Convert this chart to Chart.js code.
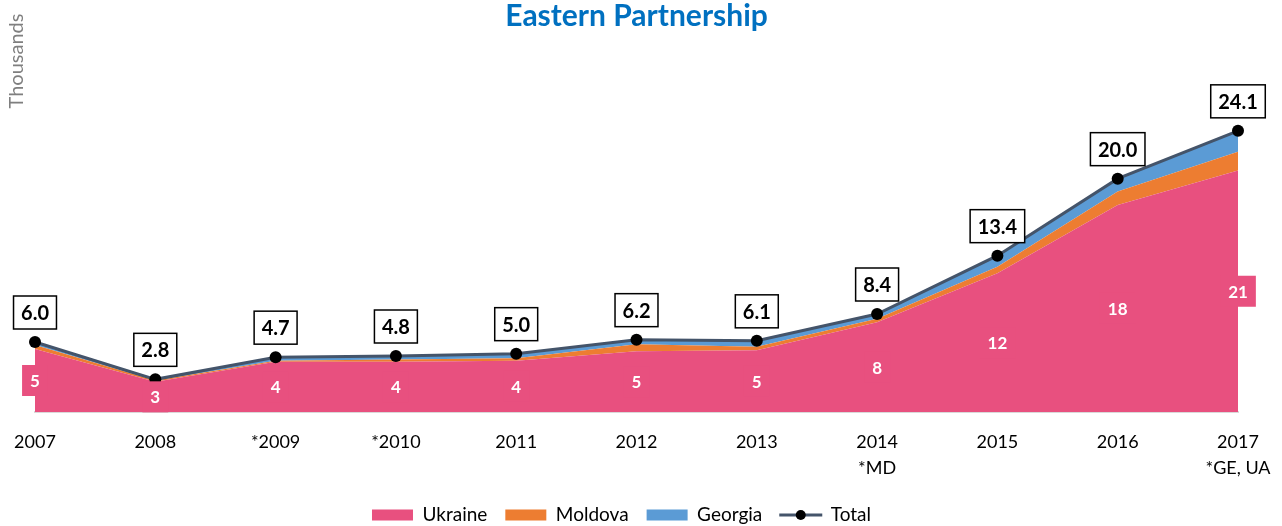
<!DOCTYPE html>
<html>
<head>
<meta charset="utf-8">
<script src="https://cdn.jsdelivr.net/npm/chart.js@4.4.1/dist/chart.umd.min.js"></script>
<style>
  html, body { margin: 0; padding: 0; background: #fff; }
  #wrap { width: 1282px; height: 526px; position: relative; }
</style>
</head>
<body>
<div id="wrap"><canvas id="chart"></canvas></div>
<script>
/* ================= DATA ================= */
const years = ["2007", "2008", "*2009", "*2010", "2011", "2012", "2013",
  ["2014", "*MD"], "2015", "2016", ["2017", "*GE, UA"]];
const ukraine = [5.4, 2.6, 4.3, 4.3, 4.4, 5.2, 5.3, 7.7, 11.9, 17.75, 20.7];
const moldova = [0.35, 0.1, 0.1, 0.2, 0.2, 0.6, 0.3, 0.3, 0.55, 1.15, 1.6];
const georgia = [0.25, 0.1, 0.3, 0.3, 0.4, 0.4, 0.5, 0.4, 0.95, 1.1, 1.8];
const total = [6.0, 2.8, 4.7, 4.8, 5.0, 6.2, 6.1, 8.4, 13.4, 20.0, 24.1];

/* ================= STYLE ================= */
const PINK = "#e8507f";
const ORANGE = "#ed7d31";
const BLUE = "#5b9bd5";
const SLATE = "#44546a";
const FONT = "Lato, 'Open Sans', sans-serif";
const LEGEND_SIZE = 19;

/* ================= PLUGINS ================= */
// fixed legend height + small left shift of the legend row
const legendPlace = {
  id: "legendPlace",
  beforeLayout(chart) {
    const lg = chart.legend;
    if (lg && !lg._patched) {
      const fit = lg.fit;
      lg.fit = function () {
        fit.call(this);
        this.height = 38.5;
      };
      lg._patched = true;
    }
  },
  afterLayout(chart) {
    chart.legend.left -= 15;
    chart.legend.right -= 15;
  },
};

// white Ukraine values + boxed totals
const valueLabels = {
  id: "valueLabels",
  afterDatasetsDraw(chart) {
    const ctx = chart.ctx;
    const base = chart.scales.y.getPixelForValue(0);
    const ukrMeta = chart.getDatasetMeta(0);
    const totMeta = chart.getDatasetMeta(3);
    ctx.save();
    ctx.textAlign = "center";
    ctx.textBaseline = "middle";

    ctx.font = "bold 17px " + FONT;
    ukrMeta.data.forEach((pt, i) => {
      const txt = String(Math.round(ukraine[i]));
      const cy = (pt.y + base) / 2;
      const w = ctx.measureText(txt).width + 16;
      ctx.fillStyle = PINK;
      ctx.fillRect(pt.x - w / 2, cy - 15.5, w, 31);
      ctx.fillStyle = "#fff";
      ctx.fillText(txt, pt.x, cy + 1);
    });

    ctx.font = "bold 20px " + FONT;
    totMeta.data.forEach((pt, i) => {
      const txt = total[i].toFixed(1);
      const w = ctx.measureText(txt).width + 15;
      const cy = pt.y - 29.5;
      ctx.fillStyle = "#fff";
      ctx.fillRect(pt.x - w / 2, cy - 16.5, w, 33);
      ctx.lineWidth = 1.5;
      ctx.strokeStyle = "#000";
      ctx.strokeRect(pt.x - w / 2, cy - 16.5, w, 33);
      ctx.fillStyle = "#000";
      ctx.fillText(txt, pt.x, cy + 1);
    });
    ctx.restore();
  },
  afterDraw(chart) {
    const ctx = chart.ctx;
    ctx.save();
    // axis caption
    ctx.translate(17, 61);
    ctx.rotate(-Math.PI / 2);
    ctx.font = "20px " + FONT;
    ctx.fillStyle = "#7f7f7f";
    ctx.textAlign = "center";
    ctx.textBaseline = "middle";
    ctx.fillText("Thousands", 0, 0);
    ctx.restore();

    // line + dot marker for Total in legend
    const hb = chart.legend.legendHitBoxes[3];
    if (hb) {
      const cy = hb.top + LEGEND_SIZE / 2;
      ctx.save();
      ctx.strokeStyle = SLATE;
      ctx.lineWidth = 3;
      ctx.beginPath();
      ctx.moveTo(hb.left - 1, cy);
      ctx.lineTo(hb.left + 42, cy);
      ctx.stroke();
      ctx.fillStyle = "#000";
      ctx.beginPath();
      ctx.arc(hb.left + 20.5, cy, 5, 0, Math.PI * 2);
      ctx.fill();
      ctx.restore();
    }
  },
};

/* ================= CHART ================= */
new Chart(document.getElementById("chart"), {
  type: "line",
  data: {
    labels: years,
    datasets: [
      {
        label: "Ukraine", data: ukraine, stack: "area", order: 1,
        backgroundColor: PINK, borderColor: PINK, borderWidth: 0,
        fill: "origin", pointRadius: 0, tension: 0,
      },
      {
        label: "Moldova", data: moldova, stack: "area", order: 1,
        backgroundColor: ORANGE, borderColor: ORANGE, borderWidth: 0,
        fill: "-1", pointRadius: 0, tension: 0,
      },
      {
        label: "Georgia", data: georgia, stack: "area", order: 1,
        backgroundColor: BLUE, borderColor: BLUE, borderWidth: 0,
        fill: "-1", pointRadius: 0, tension: 0,
      },
      {
        label: "Total", data: total, stack: "total", order: 0,
        borderColor: SLATE, backgroundColor: "#000", borderWidth: 3,
        fill: false, tension: 0, clip: false,
        pointRadius: 6, pointBackgroundColor: "#000",
        pointBorderColor: "#000", pointBorderWidth: 0, pointHoverRadius: 6,
      },
    ],
  },
  options: {
    responsive: true,
    maintainAspectRatio: false,
    animation: false,
    events: [],
    layout: { padding: { left: 35, right: 44, top: 0, bottom: 0 } },
    scales: {
      x: {
        offset: false,
        grid: { display: false, drawTicks: true, tickLength: 17 },
        border: { display: true, color: "#d9d9d9", width: 2 },
        ticks: {
          color: "#000", padding: 0, maxRotation: 0, autoSkip: false,
          font: { family: FONT, size: 18, lineHeight: 1.45 },
        },
        afterFit(scale) { scale.height = 75.5; },
      },
      y: {
        display: false,
        stacked: true,
        min: 0,
        max: 30,
      },
    },
    plugins: {
      title: {
        display: true,
        text: "Eastern Partnership",
        color: "#0070c0",
        font: { family: FONT, size: 30, weight: "bold", lineHeight: 1.1 },
        padding: { top: 0, bottom: 29 },
      },
      legend: {
        position: "bottom",
        labels: {
          color: "#000",
          boxWidth: 41,
          boxHeight: 11,
          padding: 18,
          font: { family: FONT, size: LEGEND_SIZE, lineHeight: 1 },
          sort: (a, b) => a.datasetIndex - b.datasetIndex,
          generateLabels(chart) {
            const items = Chart.defaults.plugins.legend.labels.generateLabels(chart);
            items.forEach((it) => {
              it.lineWidth = 0;
              if (it.text === "Total") {
                it.fillStyle = "rgba(0,0,0,0)";
                it.strokeStyle = "rgba(0,0,0,0)";
              }
            });
            return items;
          },
        },
      },
      tooltip: { enabled: false },
    },
  },
  plugins: [legendPlace, valueLabels],
});
</script>
</body>
</html>
